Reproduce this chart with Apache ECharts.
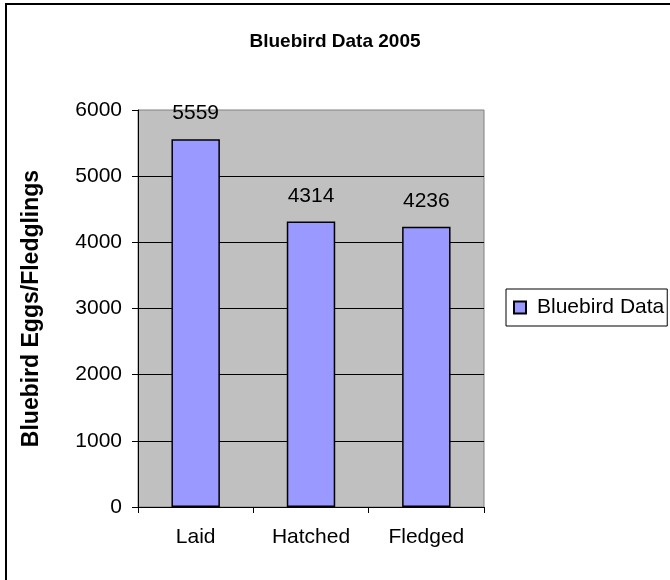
<!DOCTYPE html>
<html>
<head>
<meta charset="utf-8">
<script src="https://cdn.jsdelivr.net/npm/echarts@6/dist/echarts.min.js"></script>
<style>
  html, body { margin: 0; padding: 0; background: #fff; }
  #chart { width: 670px; height: 580px; }
</style>
</head>
<body>
<div id="chart"></div>
<script>
// data
var categories = ['Laid', 'Hatched', 'Fledged'];
var birdValues = [5559, 4314, 4236];
var yTicks = [0, 1000, 2000, 3000, 4000, 5000, 6000];

var font = 'Arial, "Liberation Sans", sans-serif';
var myChart = echarts.init(document.getElementById('chart'));

var option = {
    backgroundColor: '#ffffff',
    animation: false,
    title: {
        text: 'Bluebird Data 2005',
        left: 330,
        textAlign: 'center',
        top: 27,
        textStyle: { fontFamily: font, fontSize: 19, fontWeight: 'bold', color: '#000' }
    },
    legend: {
        data: ['Bluebird Data'],
        left: 506,
        top: 289,
        orient: 'vertical',
        borderColor: '#000',
        borderWidth: 1,
        padding: [8, 3, 8, 7],
        itemWidth: 12,
        itemHeight: 12,
        itemGap: 0,
        icon: 'rect',
        textStyle: { fontFamily: font, fontSize: 21, color: '#000', padding: [0, 0, 0, 6] }
    },
    graphic: [{
        type: 'rect',
        shape: { x: 6, y: 4, width: 700, height: 620 },
        style: { fill: 'none', stroke: '#000', lineWidth: 2 },
        silent: true
    }],
    grid: {
        left: 138,
        right: 186,
        top: 110,
        bottom: 73,
        show: true,
        backgroundColor: '#C0C0C0',
        borderColor: '#808080',
        borderWidth: 1
    },
    xAxis: {
        type: 'category',
        data: categories,
        axisLine: { lineStyle: { color: '#000', width: 1 } },
        axisTick: { show: true, length: 6, lineStyle: { color: '#000' } },
        axisLabel: { fontFamily: font, fontSize: 21, color: '#000', margin: 20 }
    },
    yAxis: {
        type: 'value',
        min: yTicks[0],
        max: yTicks[yTicks.length - 1],
        interval: 1000,
        name: 'Bluebird Eggs/Fledglings',
        nameLocation: 'middle',
        nameGap: 95,
        nameTextStyle: { fontFamily: font, fontSize: 23, fontWeight: 'bold', color: '#000' },
        axisLine: { show: true, lineStyle: { color: '#000', width: 1 } },
        axisTick: { show: true, length: 6, lineStyle: { color: '#000' } },
        axisLabel: {
            fontFamily: font, fontSize: 21, color: '#000', margin: 16,
            formatter: function (v) { return String(v); }
        },
        splitLine: { show: true, showMaxLine: false, lineStyle: { color: '#000', width: 1 } }
    },
    series: [{
        name: 'Bluebird Data',
        type: 'bar',
        data: birdValues,
        barWidth: '42%',
        itemStyle: { color: '#9999FF', borderColor: '#000', borderWidth: 1.5 },
        label: {
            show: true,
            position: 'top',
            distance: 15,
            fontFamily: font,
            fontSize: 21,
            color: '#000'
        }
    }]
};
myChart.setOption(option);
</script>
</body>
</html>
